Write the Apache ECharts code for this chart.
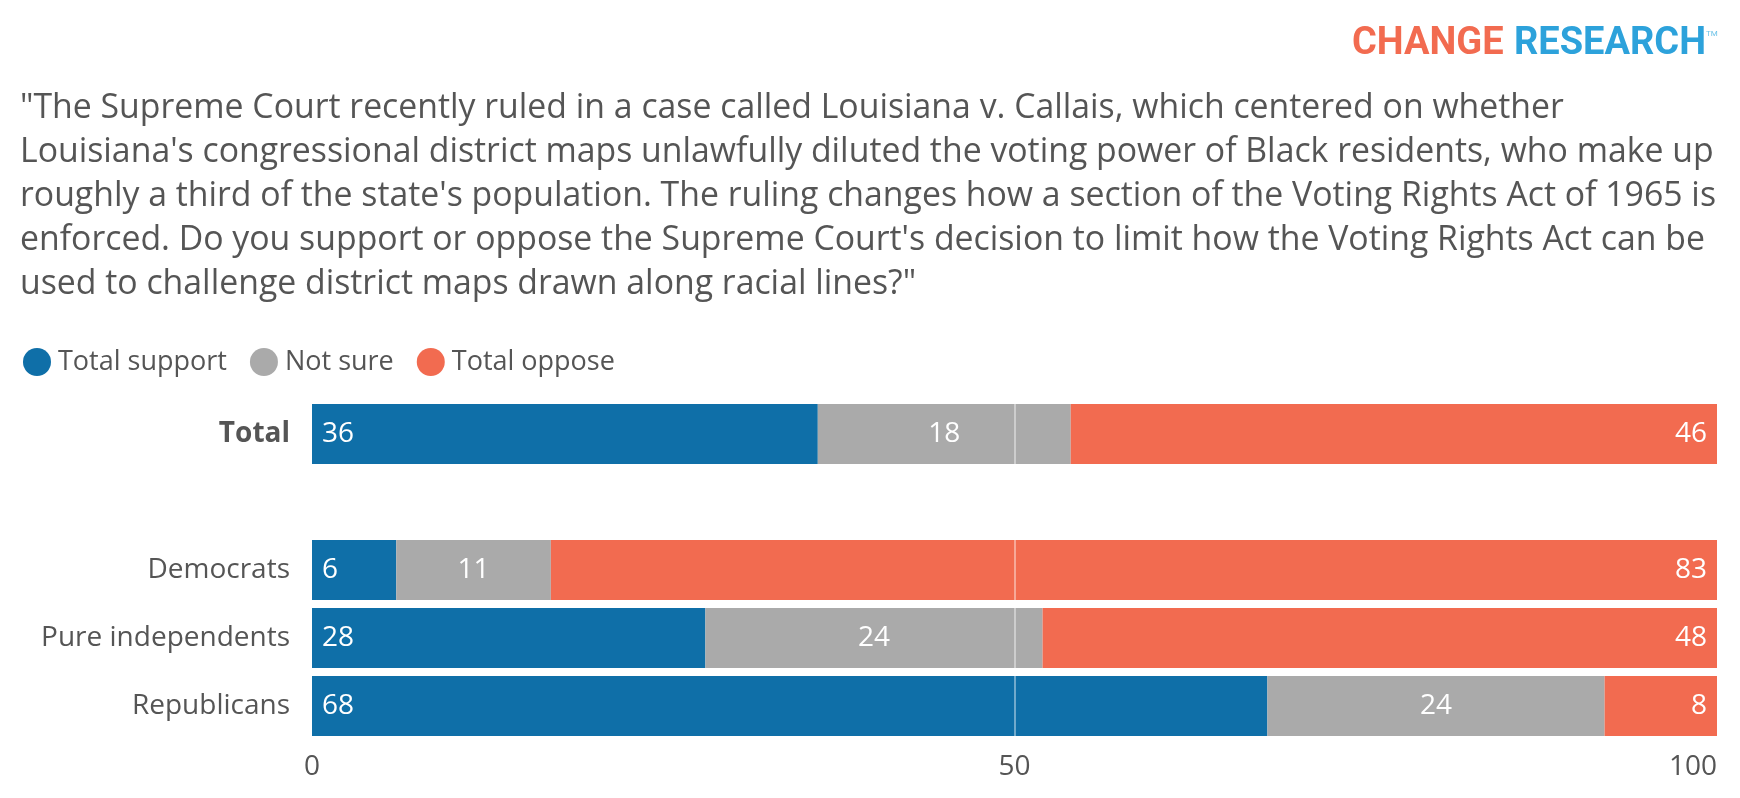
<!DOCTYPE html>
<html>
<head>
<meta charset="utf-8">
<script src="https://cdn.jsdelivr.net/npm/echarts@6/dist/echarts.min.js"></script>
<style>
html,body{margin:0;padding:0;background:#fff;}
#chart{width:1740px;height:798px;}
</style>
</head>
<body>
<div id="chart"></div>
<script>
const categories = ['Total', '', 'Democrats', 'Pure independents', 'Republicans'];
const seriesNames = ['Total support', 'Not sure', 'Total oppose'];
const supportValues = [36, null, 6, 28, 68];
const notSureValues = [18, null, 11, 24, 24];
const opposeValues = [46, null, 83, 48, 8];
const xTicks = [0, 50, 100];
const titleLines = [
  '"The Supreme Court recently ruled in a case called Louisiana v. Callais, which centered on whether',
  "Louisiana's congressional district maps unlawfully diluted the voting power of Black residents, who make up",
  "roughly a third of the state's population. The ruling changes how a section of the Voting Rights Act of 1965 is",
  "enforced. Do you support or oppose the Supreme Court's decision to limit how the Voting Rights Act can be",
  'used to challenge district maps drawn along racial lines?"'
];

const colors = ['#0F6FA8', '#AAAAAA', '#F26B50'];
const FONT = '"Open Sans", "Noto Sans", sans-serif';
const LOGO_FONT = 'Roboto, sans-serif';

const chart = echarts.init(document.getElementById('chart'));

function labelCfg(pos) {
  return {
    show: true,
    position: pos,
    distance: 10,
    color: '#fff',
    fontSize: 28,
    fontFamily: FONT,
    formatter: p => (p.value == null ? '' : p.value)
  };
}

const option = {
  animation: false,
  color: colors,
  textStyle: { fontFamily: FONT },
  graphic: [
    {
      type: 'text',
      left: 1352,
      top: 25,
      style: { text: 'CHANGE', fill: '#F26B50', fontSize: 38, fontWeight: 'bold', fontFamily: LOGO_FONT }
    },
    {
      type: 'text',
      left: 1514,
      top: 25,
      style: { text: 'RESEARCH', fill: '#2DA2DB', fontSize: 38, fontWeight: 'bold', fontFamily: LOGO_FONT }
    },
    {
      type: 'text',
      left: 1706,
      top: 30,
      style: { text: 'TM', fill: '#6EC3E8', fontSize: 8, fontFamily: LOGO_FONT }
    },
    {
      type: 'text',
      left: 20,
      top: 86,
      style: {
        text: titleLines.join('\n'),
        fill: '#555555',
        fontSize: 33.8,
        lineHeight: 44,
        fontFamily: FONT
      }
    }
  ],
  legend: {
    left: 18,
    top: 343,
    icon: 'circle',
    itemWidth: 28,
    itemHeight: 28,
    itemGap: 23,
    textStyle: { fontSize: 27, color: '#555', fontFamily: FONT, padding: [0, 0, 0, 2] },
    data: seriesNames
  },
  grid: { left: 312, right: 23, top: 400, bottom: 58, containLabel: false },
  xAxis: {
    type: 'value',
    min: 0,
    max: 100,
    interval: 50,
    axisLine: { show: false },
    axisTick: { show: false },
    splitLine: { show: false },
    axisLabel: {
      fontSize: 28,
      color: '#555',
      margin: 13,
      fontFamily: FONT,
      alignMaxLabel: 'right',
      formatter: v => (xTicks.indexOf(v) >= 0 ? String(v) : '')
    }
  },
  yAxis: {
    type: 'category',
    inverse: true,
    data: categories,
    axisLine: { show: false },
    axisTick: { show: false },
    axisLabel: {
      fontSize: 28,
      color: '#555',
      margin: 22,
      fontFamily: FONT,
      formatter: v => (v === 'Total' ? '{b|' + v + '}' : v),
      rich: { b: { fontWeight: 'bold', fontSize: 28, color: '#555', fontFamily: FONT } }
    }
  },
  series: [
    {
      name: seriesNames[0], type: 'bar', stack: 'all', barWidth: 60,
      data: supportValues, label: labelCfg('insideLeft')
    },
    {
      name: seriesNames[1], type: 'bar', stack: 'all', barWidth: 60,
      data: notSureValues, label: labelCfg('inside')
    },
    {
      name: seriesNames[2], type: 'bar', stack: 'all', barWidth: 60,
      data: opposeValues, label: labelCfg('insideRight'),
      markLine: {
        silent: true,
        symbol: 'none',
        label: { show: false },
        lineStyle: { color: 'rgba(255,255,255,0.55)', width: 1.5, type: 'solid' },
        data: [{ xAxis: 50 }],
        z: 10
      }
    }
  ]
};

chart.setOption(option);
</script>
</body>
</html>
